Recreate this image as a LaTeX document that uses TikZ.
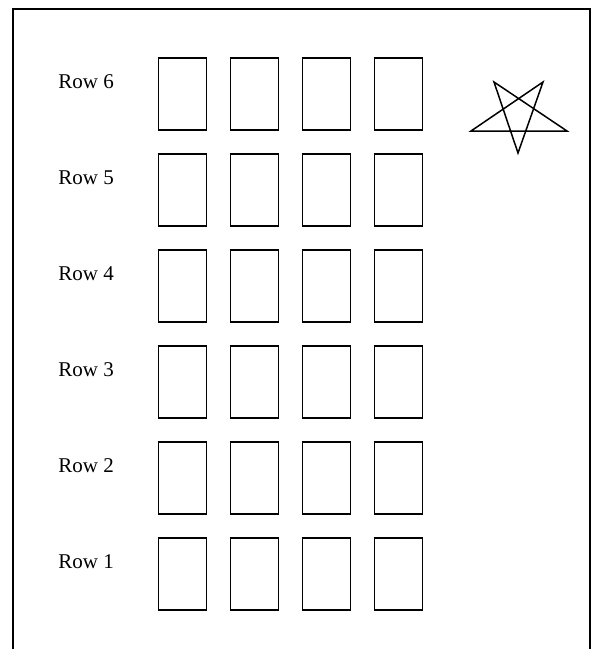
\documentclass[tikz,border=0pt]{standalone}
\usepackage{fontspec}
\setmainfont{Liberation Serif}

\begin{document}
\begin{tikzpicture}[
    x=0.5pt, y=-0.5pt,
    seat/.style={draw, rectangle, minimum width=24pt, minimum height=36pt, inner sep=0pt, line width=0.7pt},
    rowlabel/.style={anchor=base west, inner sep=0pt, font=\fontsize{10.5}{12}\selectfont},
]
    \useasboundingbox (0,0) rectangle (592,649);

    % Frame, open at the bottom
    \draw[line width=0.7pt] (13,660) -- (13,9) -- (590,9) -- (590,660);

    % Rows of seats, row 1 at the bottom
    \foreach \r in {1,...,6} {
        \pgfmathsetmacro{\rowtop}{538-96*(\r-1)}
        \node[rowlabel] (label\r) at (58,{\rowtop+30}) {Row \r};
        \foreach \c in {1,...,4} {
            \pgfmathsetmacro{\seatx}{182.5+72*(\c-1)}
            \node[seat] (seat\r-\c) at (\seatx,{\rowtop+36}) {};
        }
    }

    % Star
    \coordinate (tl) at (494,82);
    \coordinate (tr) at (543,82);
    \coordinate (lf) at (471,131);
    \coordinate (rt) at (567,131);
    \coordinate (bt) at (518,153);
    \draw[line width=0.75pt, line join=miter] (bt) -- (tl) -- (rt) -- (lf) -- (tr) -- cycle;

\end{tikzpicture}
\end{document}
